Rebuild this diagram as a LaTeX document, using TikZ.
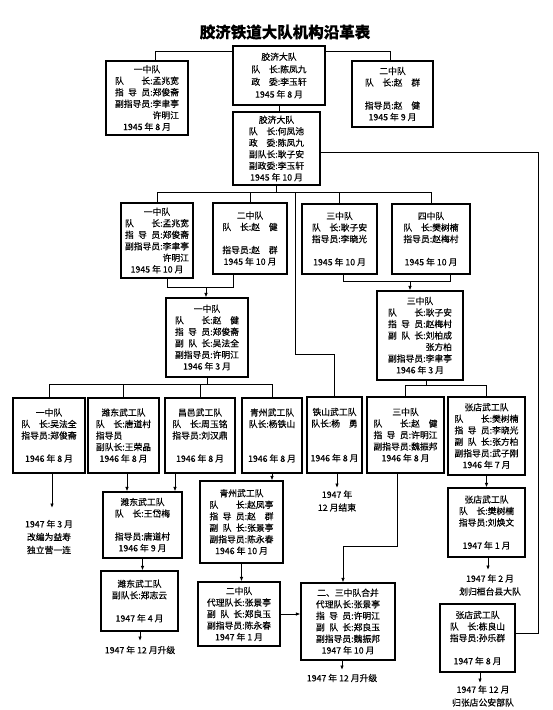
\documentclass[tikz,border=0pt]{standalone}
\usepackage{fontspec}
\setmainfont{Noto Sans CJK SC}[FakeBold=0.35]
\usetikzlibrary{arrows.meta}
\newcommand{\LF}[1]{\makebox[4em][s]{#1}}
\newcommand{\LT}[1]{\makebox[3em][s]{#1}}
\newcommand{\PF}{\phantom{\LF{副指导员}:}}
\begin{document}
\begin{tikzpicture}[x=1pt,y=-1pt,
  box/.style={draw, line width=1.1pt, inner sep=0pt, align=center, font=\fontsize{8.8}{11.5}\selectfont},
  conn/.style={line width=1pt},
  arr/.style={line width=1pt, -{Latex[length=4.5pt,width=3.5pt]}},
  notetext/.style={align=center, inner sep=0pt, font=\fontsize{8.8}{13}\selectfont}]
\fill[white] (0,0) rectangle (553,710);
\useasboundingbox (0,0) rectangle (553,710);

\node[font=\fontsize{15.5}{17}\selectfont\bfseries] (title) at (285,32) {胶济铁道大队机构沿革表};

% row 1
\node[box, font=\fontsize{8.8}{12.5}\selectfont, minimum width=92, minimum height=59] (A0) at (279,75.5)
  {胶济大队\\\LT{队 长}:陈凤九\\\LT{政 委}:李玉轩\\1945 年 8 月};
\node[box, minimum width=82, minimum height=74] (A1) at (147,98)
  {一中队\\\LF{队 长}:孟兆宽\\\LF{指 导 员}:郑俊斋\\\LF{副指导员}:李聿亭\\\PF 许明江\\1945 年 8 月};
\node[box, minimum width=81, minimum height=66] (A2) at (392.5,94)
  {二中队\\\LT{队 长}:赵　群\\\mbox{}\\指导员:赵　健\\1945 年 9 月};

% row 2
\node[box, minimum width=87, minimum height=73] (B) at (276.5,148.5)
  {胶济大队\\\LT{队 长}:何凤池\\\LT{政 委}:陈凤九\\副队长:耿子安\\副政委:李玉轩\\1945 年 10 月};

% row 3
\node[box, minimum width=72, minimum height=75] (C1) at (157,240.5)
  {一中队\\\LF{队 长}:孟兆宽\\\LF{指 导 员}:郑俊斋\\\LF{副指导员}:李聿亭\\\PF 许明江\\1945 年 10 月};
\node[box, minimum width=74, minimum height=71] (C2) at (250,238.5)
  {二中队\\\LT{队 长}:赵　健\\\mbox{}\\指导员:赵　群\\1945 年 10 月};
\node[box, minimum width=75, minimum height=70] (C3) at (339.5,239)
  {三中队\\\LT{队 长}:耿子安\\指导员:李晓光\\\mbox{}\\1945 年 10 月};
\node[box, minimum width=78, minimum height=70] (C4) at (431,239)
  {四中队\\\LT{队 长}:樊树楠\\指导员:赵梅村\\\mbox{}\\1945 年 10 月};

% row 4
\node[box, minimum width=82, minimum height=79] (D1) at (207,337.5)
  {一中队\\\LF{队 长}:赵　健\\\LF{指 导 员}:郑俊斋\\\LF{副 队 长}:吴法全\\\LF{副指导员}:许明江\\1946 年 3 月};
\node[box, minimum width=86, minimum height=89] (D2) at (420,335.5)
  {三中队\\\LF{队 长}:耿子安\\\LF{指 导 员}:赵梅村\\\LF{副 队 长}:刘柏成\\\PF 张方柏\\\LF{副指导员}:李聿亭\\1946 年 3 月};

% row 5
\node[box, minimum width=72, minimum height=75] (E1) at (49,435.5)
  {一中队\\\LT{队 长}:吴法全\\指导员:郑俊斋\\\mbox{}\\1946 年 8 月};
\node[box, minimum width=71, minimum height=75] (E2) at (123.5,435.5)
  {潍东武工队\\\LT{队 长}:唐道村\\指导员\phantom{:唐道村}\\副队长:王荣晶\\1946 年 8 月};
\node[box, minimum width=70, minimum height=75] (E3) at (200,435.5)
  {昌邑武工队\\\LT{队 长}:周玉铭\\指导员:刘汉鼎\\\mbox{}\\1946 年 8 月};
\node[box, minimum width=60, minimum height=75] (E4) at (272,435.5)
  {青州武工队\\队长:杨铁山\\\mbox{}\\\mbox{}\\1946 年 8 月};
\node[box, minimum width=55, minimum height=76] (E5) at (334.5,435)
  {铁山武工队\\队长:杨　勇\\\mbox{}\\\mbox{}\\1946 年 8 月};
\node[box, minimum width=77, minimum height=76] (E6) at (405.5,435)
  {三中队\\\LF{队 长}:赵　健\\\LF{指 导 员}:许明江\\\LF{副指导员}:魏振邦\\1946 年 8 月};
\node[box, minimum width=77, minimum height=78] (E7) at (486.5,436)
  {张店武工队\\\LF{队 长}:樊树楠\\\LF{指 导 员}:李晓光\\\LF{副 队 长}:张方柏\\\LF{副指导员}:武子刚\\1946 年 7 月};

% row 6
\node[box, minimum width=79, minimum height=66] (F2) at (142.5,525)
  {潍东武工队\\\LT{队 长}:王岱梅\\\mbox{}\\指导员:唐道村\\1946 年 9 月};
\node[box, minimum width=83, minimum height=82] (F4) at (241.5,522)
  {青州武工队\\\LF{队 长}:赵凤亭\\\LF{指 导 员}:赵　群\\\LF{副 队 长}:张景亭\\\LF{副指导员}:陈永春\\1946 年 10 月};
\node[box, minimum width=77, minimum height=69] (F7) at (486.5,522.5)
  {张店武工队\\\LT{队 长}:樊树楠\\指导员:刘焕文\\\mbox{}\\1947 年 1 月};

% row 7
\node[box, minimum width=77, minimum height=60] (G2) at (139.5,601)
  {潍东武工队\\副队长:郑志云\\\mbox{}\\1947 年 4 月};
\node[box, minimum width=82, minimum height=64] (G4) at (239,614)
  {二中队\\代理队长:张景亭\\\LF{副 队 长}:郑良玉\\\LF{副指导员}:陈永春\\1947 年 1 月};
\node[box, minimum width=94, minimum height=77] (G5) at (348,621.5)
  {二、三中队合并\\代理队长:张景亭\\\LF{指 导 员}:许明江\\\LF{副 队 长}:郑良玉\\\LF{副指导员}:魏振邦\\1947 年 10 月};
\node[box, minimum width=75, minimum height=68] (H7) at (477.5,638)
  {张店武工队\\\LT{队 长}:栋良山\\指导员:孙乐群\\\mbox{}\\1947 年 8 月};

% notes
\node[notetext] (T1) at (49,537) {1947 年 3 月\\改编为益寿\\独立营一连};
\node[notetext] (T2) at (337,501) {1947 年\\12 月结束};
\node[notetext] (T3) at (490,585) {1947 年 2 月\\划归桓台县大队};
\node[notetext] (T4) at (140,650) {1947 年 12 月升级};
\node[notetext] (T5) at (342,678) {1947 年 12 月升级};
\node[notetext] (T6) at (483,696) {1947 年 12 月\\归张店公安部队};

% coordinates
\coordinate (j1) at (295,192);
\coordinate (j2) at (295,354);
\coordinate (j3) at (206,287);
\coordinate (j4) at (410,281);
\coordinate (j5) at (207,384);
\coordinate (j6) at (426,385);
\coordinate (j7) at (343,546);
\coordinate (j8) at (538,152);
\coordinate (t1a) at (52,508);
\coordinate (t2a) at (337,488);
\coordinate (t3a) at (488,570);
\coordinate (t4a) at (140,641);
\coordinate (t5a) at (342,670);
\coordinate (t6a) at (480,683);

% connectors
\draw[conn] ([yshift=-6pt]A0.north west) -| ([xshift=8pt]A1.north);
\draw[conn] ([yshift=-6pt]A0.north east) -| ([xshift=-2.5pt]A2.north);
\draw[conn] (A0.south) -- (A0.south |- B.north);
\draw[conn] (B.south) -- (B.south |- j1);
\draw[conn] (C1.north) |- (C4.north |- j1) -- (C4.north);
\draw[conn] (C2.north) -- (C2.north |- j1);
\draw[conn] (C3.north) -- (C3.north |- j1);
\draw[conn] (j1) -- (j2) -| (E5.north);
\draw[conn] ([xshift=10pt]C1.south) |- ([xshift=-17pt]C2.south |- j3) -- ([xshift=-17pt]C2.south);
\draw[arr] (j3) -- (j3 |- D1.north);
\draw[conn] ([xshift=3.5pt]C3.south) |- ([xshift=19pt]C4.south |- j4) -- ([xshift=19pt]C4.south);
\draw[arr] (j4) -- (j4 |- D2.north);
\draw[conn] (D1.south) -- (j5);
\draw[conn] (E1.north) |- (E4.north |- j5) -- (E4.north);
\draw[conn] (E2.north) -- (E2.north |- j5);
\draw[conn] (E3.north) -- (E3.north |- j5);
\draw[conn] ([xshift=6pt]D2.south) -- (j6);
\draw[conn] (E6.north) |- (E7.north |- j6) -- (E7.north);
\draw[arr] ([xshift=3.5pt]E2.south) -- ([xshift=3.5pt]E2.south |- F2.north);
\draw[arr] ([xshift=-25pt]E3.south) -- ([xshift=-25pt]E3.south |- F2.north);
\draw[arr] (E4.south) -- (E4.south |- F4.north);
\draw[arr] ([xshift=-8.5pt]E6.south) |- (j7) -- (j7 |- G5.north);
\draw[arr] (E7.south) -- (F7.north);
\draw[arr] (F2.south) -- (F2.south |- G2.north);
\draw[arr] (F4.south) -- (F4.south |- G4.north);
\draw[arr] (G4.east) -- (G4.east -| G5.west);
\draw[conn] ([yshift=-3.5pt]B.east) -- ([yshift=-3.5pt]B.east -| j8) |- ([yshift=5pt]H7.east);
\draw[arr] (E1.south -| t1a) -- (t1a);
\draw[arr] (E5.south -| t2a) -- (t2a);
\draw[arr] (F7.south -| t3a) -- (t3a);
\draw[arr] (G2.south -| t4a) -- (t4a);
\draw[arr] (G5.south -| t5a) -- (t5a);
\draw[arr] (H7.south -| t6a) -- (t6a);
\end{tikzpicture}
\end{document}
